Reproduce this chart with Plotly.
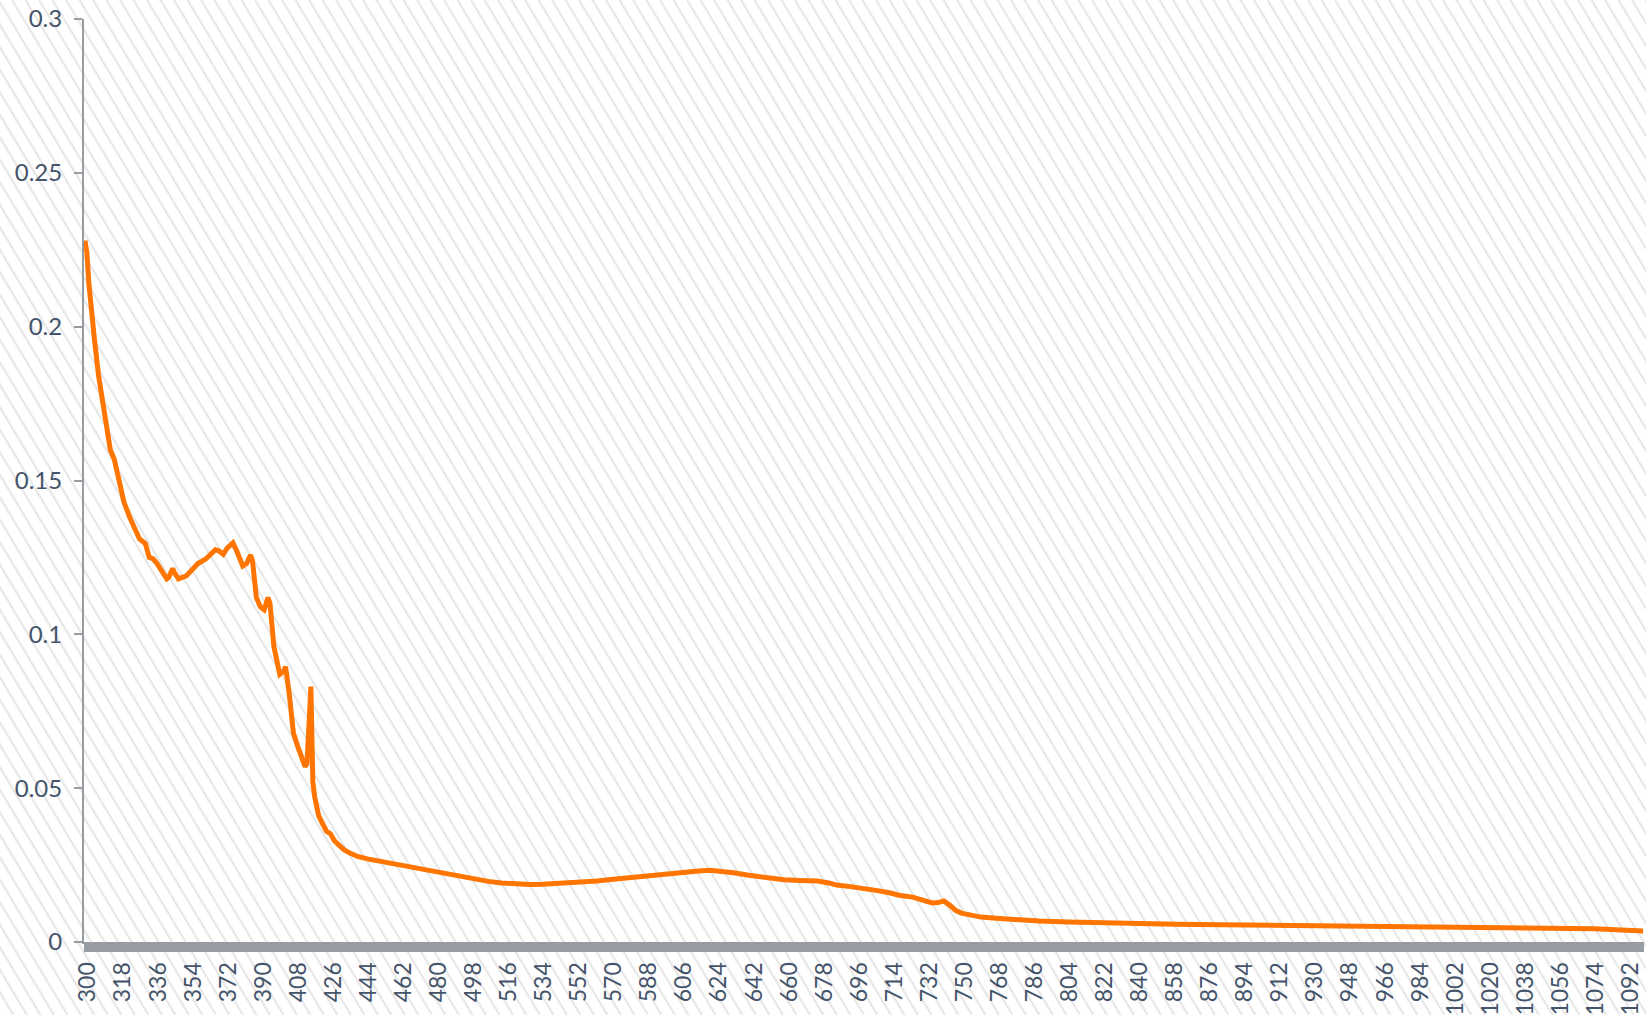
import plotly.graph_objects as go

# ---- data ----
wavelength = [300, 301, 302, 304, 305, 307, 310, 313, 315, 318, 320, 323, 326, 328, 330, 331, 333, 335,
              337, 339, 342, 343, 345, 346, 348, 350, 352, 355, 358, 362, 365, 367, 369, 371, 373, 376,
              378, 380, 381, 383, 385, 386, 388, 390, 392, 394, 395, 397, 399, 400, 402, 403, 405, 407,
              409, 411, 413, 414, 416, 417, 418, 420, 422, 424, 426, 428, 430, 433, 436, 440, 445, 450,
              455, 460, 465, 470, 477, 485, 492, 500, 507, 514, 520, 528, 535, 545, 555, 563, 570, 580,
              588, 597, 603, 609, 615, 621, 627, 633, 640, 647, 653, 659, 667, 676, 682, 686, 693, 700,
              707, 713, 718, 725, 730, 735, 738, 741, 744, 747, 750, 755, 760, 768, 778, 790, 805, 820,
              839, 860, 884, 905, 929, 950, 974, 1000, 1019, 1040, 1064, 1075, 1086, 1093, 1100]
absorbance = [0.228, 0.224, 0.214, 0.200, 0.195, 0.184, 0.172, 0.160, 0.157, 0.148, 0.143, 0.138, 0.134,
              0.131, 0.130, 0.1295, 0.125, 0.1245, 0.123, 0.121, 0.118, 0.1185, 0.1214, 0.120, 0.118,
              0.1185, 0.119, 0.121, 0.123, 0.1245, 0.126, 0.1275, 0.127, 0.126, 0.128, 0.1297, 0.127,
              0.123, 0.1222, 0.123, 0.1258, 0.124, 0.112, 0.109, 0.108, 0.112, 0.110, 0.096, 0.089,
              0.087, 0.088, 0.0895, 0.080, 0.068, 0.064, 0.060, 0.057, 0.058, 0.083, 0.052, 0.047,
              0.041, 0.038, 0.036, 0.0352, 0.033, 0.0317, 0.030, 0.0289, 0.0278, 0.0270, 0.0264,
              0.0258, 0.0251, 0.0245, 0.0239, 0.0230, 0.0220, 0.0212, 0.0204, 0.0197, 0.0192, 0.0189,
              0.0187, 0.0188, 0.0191, 0.0194, 0.0198, 0.0203, 0.0210, 0.0214, 0.0220, 0.0225, 0.0229,
              0.0231, 0.0233, 0.0230, 0.0225, 0.0218, 0.0211, 0.0206, 0.0202, 0.0200, 0.0198, 0.0192,
              0.0185, 0.0180, 0.0175, 0.0167, 0.0160, 0.0152, 0.0146, 0.0138, 0.0127, 0.0128, 0.0133,
              0.0120, 0.0103, 0.0094, 0.0087, 0.0081, 0.0077, 0.0072, 0.0068, 0.0065, 0.0062, 0.0060,
              0.0058, 0.0056, 0.0055, 0.0053, 0.0052, 0.0050, 0.0049, 0.0048, 0.0047, 0.0045, 0.0043,
              0.0040, 0.0039, 0.0036]

y_tick_values = [0, 0.05, 0.1, 0.15, 0.2, 0.25, 0.3]
y_tick_labels = ["0", "0.05", "0.1", "0.15", "0.2", "0.25", "0.3"]
x_first_label = 300
x_label_step = 18

# ---- layout constants ----
W, H = 1646, 1015
ML, MR, MT, MB = 84, 2, 19, 73
PW = W - ML - MR
PH = H - MT - MB

AXIS_GREY = "#979ca3"
TEXT = "#44546a"
ORANGE = "#ff7500"

fig = go.Figure()
fig.add_trace(go.Scatter(x=wavelength, y=absorbance, mode="lines",
                         line=dict(color=ORANGE, width=5), hoverinfo="x+y", showlegend=False))

# diagonal hatch background across the whole figure (pixel -> paper conversion)
def px2paper(px, py):
    return (px - ML) / PW, (H - MB - py) / PH

shapes = []
slope = 0.6      # horizontal shift per vertical pixel
spacing = 13.5
x0 = -slope * H - spacing
while x0 < W + spacing:
    xa, ya = px2paper(x0, 0)
    xb, yb = px2paper(x0 + slope * H, H)
    shapes.append(dict(type="line", xref="paper", yref="paper", x0=xa, y0=ya, x1=xb, y1=yb,
                       line=dict(color="#e8e8e8", width=2.2), layer="below"))
    x0 += spacing

fig.update_layout(
    width=W, height=H,
    margin=dict(l=ML, r=MR, t=MT, b=MB, autoexpand=False),
    paper_bgcolor="white",
    plot_bgcolor="rgba(0,0,0,0)",
    shapes=shapes,
    font=dict(family="Lato, Carlito, sans-serif", size=23, color=TEXT),
    xaxis=dict(
        range=[299.5, 1100.5], tickmode="linear", tick0=x_first_label, dtick=x_label_step,
        tickangle=-90, showgrid=False, zeroline=False, automargin=False,
        showline=True, linecolor=AXIS_GREY, linewidth=2,
        ticks="outside", ticklen=8, tickwidth=2, tickcolor=AXIS_GREY,
        minor=dict(dtick=1, tick0=300, ticks="outside", ticklen=8, tickwidth=2,
                   tickcolor=AXIS_GREY, showgrid=False),
        tickfont=dict(size=23, color=TEXT), ticklabelstandoff=1, ticklabelshift=3,
    ),
    yaxis=dict(
        range=[0, 0.3], tickmode="array", tickvals=y_tick_values, ticktext=y_tick_labels,
        showgrid=False, zeroline=False, automargin=False,
        showline=True, linecolor=AXIS_GREY, linewidth=2,
        ticks="outside", ticklen=8, tickwidth=2, tickcolor=AXIS_GREY,
        tickfont=dict(size=24, color=TEXT), ticklabelstandoff=7,
    ),
)

fig.write_html("out.html", config={"displayModeBar": False},
               post_script="document.body.style.margin='0';document.body.style.overflow='hidden';")
